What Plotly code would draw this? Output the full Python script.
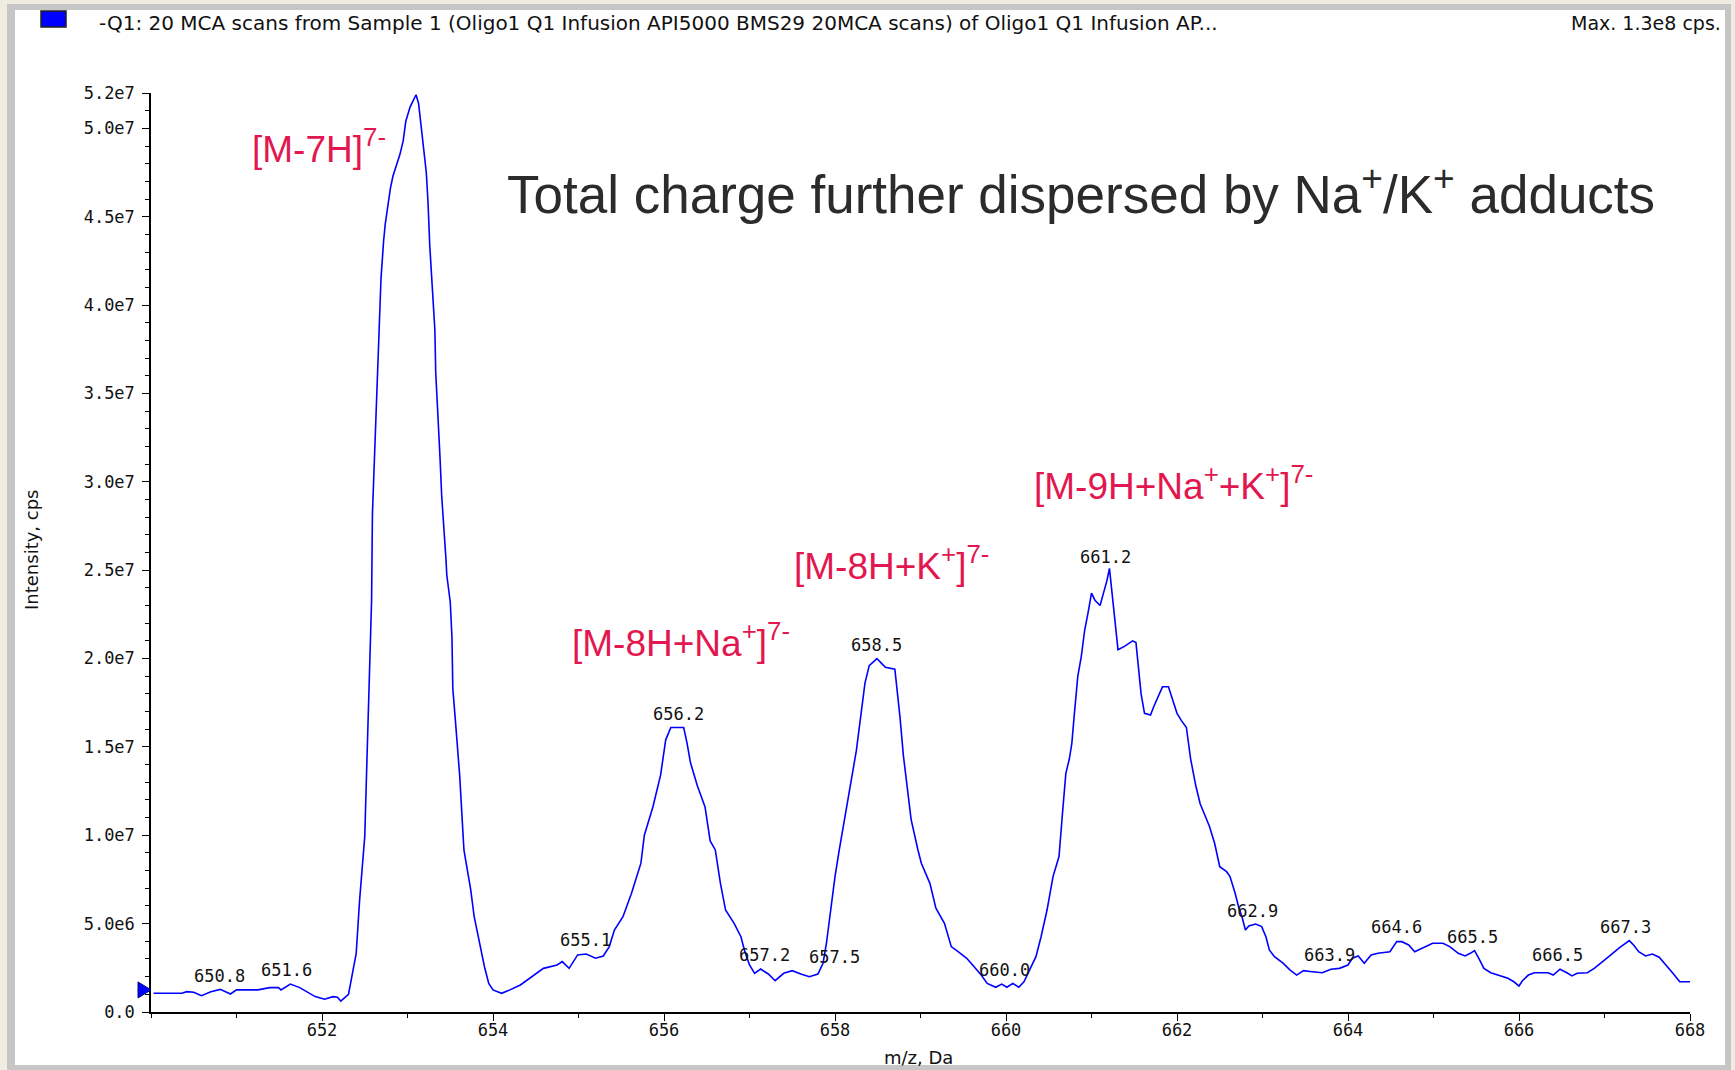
import plotly.graph_objects as go

# ---------------- data ----------------
mz = [650.03, 650.36, 650.42, 650.50, 650.59, 650.70, 650.81, 650.93, 651.00, 651.25,
      651.39, 651.49, 651.52, 651.63, 651.74, 651.92, 652.03, 652.13, 652.18, 652.22,
      652.31, 652.35, 652.40, 652.44, 652.47, 652.50, 652.52, 652.55, 652.58, 652.59,
      652.62, 652.64, 652.67, 652.69, 652.72, 652.74, 652.77, 652.80, 652.83, 652.87,
      652.91, 652.95, 652.98, 653.03, 653.07, 653.10, 653.13, 653.16, 653.19, 653.22,
      653.24, 653.26, 653.29, 653.32, 653.33, 653.35, 653.38, 653.40, 653.43, 653.45,
      653.46, 653.50, 653.52, 653.53, 653.56, 653.61, 653.66, 653.70, 653.74, 653.78,
      653.84, 653.90, 653.95, 654.00, 654.10, 654.18, 654.32, 654.45, 654.59, 654.75,
      654.81, 654.89, 654.99, 655.09, 655.20, 655.29, 655.36, 655.42, 655.52, 655.62,
      655.73, 655.77, 655.87, 655.96, 656.02, 656.08, 656.17, 656.23, 656.27, 656.31,
      656.39, 656.48, 656.54, 656.60, 656.66, 656.72, 656.82, 656.90, 656.94, 657.00,
      657.06, 657.13, 657.22, 657.30, 657.40, 657.50, 657.60, 657.70, 657.80, 657.86,
      657.90, 657.96, 658.00, 658.05, 658.15, 658.25, 658.30, 658.35, 658.40, 658.49,
      658.55, 658.59, 658.70, 658.73, 658.76, 658.80, 658.89, 658.97, 659.01, 659.11,
      659.18, 659.28, 659.36, 659.44, 659.54, 659.61, 659.71, 659.78, 659.88, 659.95,
      660.01, 660.08, 660.15, 660.21, 660.28, 660.35, 660.41, 660.48, 660.55, 660.62,
      660.66, 660.70, 660.74, 660.77, 660.80, 660.84, 660.88, 660.92, 660.96, 661.00,
      661.04, 661.10, 661.14, 661.18, 661.21, 661.25, 661.28, 661.31, 661.39, 661.48,
      661.52, 661.55, 661.58, 661.62, 661.69, 661.73, 661.79, 661.83, 661.90, 661.95,
      662.00, 662.05, 662.11, 662.16, 662.22, 662.27, 662.32, 662.38, 662.44, 662.50,
      662.58, 662.62, 662.68, 662.72, 662.76, 662.80, 662.84, 662.92, 662.99, 663.04,
      663.08, 663.14, 663.24, 663.32, 663.40, 663.48, 663.58, 663.70, 663.80, 663.90,
      664.00, 664.05, 664.12, 664.19, 664.27, 664.35, 664.49, 664.57, 664.63, 664.71,
      664.78, 664.87, 664.99, 665.11, 665.19, 665.29, 665.37, 665.43, 665.48, 665.53,
      665.59, 665.67, 665.78, 665.87, 665.94, 666.00, 666.04, 666.11, 666.18, 666.34,
      666.40, 666.48, 666.56, 666.62, 666.68, 666.80, 666.88, 666.96, 667.06, 667.18,
      667.29, 667.34, 667.40, 667.48, 667.56, 667.64, 667.72, 667.80, 667.88, 668.00]

# intensity in millions of cps
intensity_e6 = [1.06, 1.06, 1.15, 1.12, 0.92, 1.15, 1.28, 1.02, 1.25, 1.25,
                1.38, 1.38, 1.25, 1.58, 1.38, 0.87, 0.72, 0.87, 0.83, 0.62,
                1.00, 2.0, 3.32, 6.34, 8.04, 9.92, 13.3, 18.2, 23.3, 28.2,
                32.3, 35.3, 38.5, 41.5, 43.6, 44.6, 45.6, 46.6, 47.3, 47.9,
                48.5, 49.3, 50.4, 51.2, 51.6, 51.9, 51.4, 50.1, 48.8, 47.5,
                45.8, 43.4, 41.0, 38.6, 36.2, 33.9, 31.4, 29.2, 27.3, 25.6,
                24.7, 23.2, 21.2, 18.3, 16.5, 13.4, 9.17, 8.04, 6.90, 5.39,
                3.89, 2.56, 1.62, 1.25, 1.06, 1.21, 1.53, 2.00, 2.47, 2.66,
                2.85, 2.47, 3.23, 3.28, 3.04, 3.17, 3.70, 4.64, 5.39, 6.72,
                8.42, 10.0, 11.6, 13.4, 15.4, 16.1, 16.1, 16.1, 15.2, 14.1,
                12.8, 11.6, 9.68, 9.17, 7.28, 5.77, 5.02, 4.26, 3.51, 2.66,
                2.19, 2.43, 2.15, 1.77, 2.19, 2.34, 2.15, 2.00, 2.15, 2.76,
                3.89, 6.15, 7.66, 9.17, 12.0, 14.8, 16.7, 18.6, 19.6, 20.0,
                19.7, 19.5, 19.4, 18.2, 16.7, 14.5, 10.9, 9.17, 8.42, 7.28,
                5.87, 5.02, 3.70, 3.41, 3.04, 2.66, 2.09, 1.62, 1.40, 1.58,
                1.40, 1.62, 1.40, 1.71, 2.38, 3.13, 4.26, 5.77, 7.66, 8.8,
                11.2, 13.5, 14.3, 15.2, 16.9, 19.0, 20.1, 21.6, 22.6, 23.7,
                23.3, 23.0, 23.7, 24.4, 25.1, 23.3, 22.0, 20.5, 20.7, 21.0,
                20.9, 19.4, 18.0, 16.9, 16.8, 17.3, 18.0, 18.4, 18.4, 17.7,
                16.9, 16.5, 16.1, 14.3, 12.8, 11.8, 11.2, 10.5, 9.55, 8.22,
                7.94, 7.66, 6.72, 5.96, 5.39, 4.64, 4.87, 4.98, 4.83, 4.26,
                3.51, 3.13, 2.76, 2.38, 2.09, 2.34, 2.28, 2.22, 2.42, 2.47,
                2.66, 3.04, 3.17, 2.76, 3.23, 3.32, 3.41, 3.98, 3.98, 3.79,
                3.41, 3.60, 3.89, 3.89, 3.70, 3.32, 3.17, 3.32, 3.47, 3.04,
                2.47, 2.22, 2.04, 1.91, 1.71, 1.47, 1.77, 2.09, 2.22, 2.22,
                2.09, 2.42, 2.22, 2.04, 2.19, 2.22, 2.47, 2.76, 3.17, 3.66,
                4.04, 3.79, 3.41, 3.17, 3.28, 3.10, 2.66, 2.19, 1.71, 1.71]

y_tick_vals = [0, 5e6, 1e7, 1.5e7, 2e7, 2.5e7, 3e7, 3.5e7, 4e7, 4.5e7, 5e7, 5.2e7]
y_tick_text = ["0.0", "5.0e6", "1.0e7", "1.5e7", "2.0e7", "2.5e7", "3.0e7",
               "3.5e7", "4.0e7", "4.5e7", "5.0e7", "5.2e7"]
x_tick_vals = [652, 654, 656, 658, 660, 662, 664, 666, 668]
x_tick_text = ["652", "654", "656", "658", "660", "662", "664", "666", "668"]

peak_labels = ["650.8", "651.6", "653.1", "655.1", "656.2", "657.2", "657.5", "658.5",
               "660.0", "661.2", "662.9", "663.9", "664.6", "665.5", "666.5", "667.3"]

ion_labels = ["[M-7H]<sup>7-</sup>",
              "[M-8H+Na<sup>+</sup>]<sup>7-</sup>",
              "[M-8H+K<sup>+</sup>]<sup>7-</sup>",
              "[M-9H+Na<sup>+</sup>+K<sup>+</sup>]<sup>7-</sup>"]

header_text = ("-Q1: 20 MCA scans from Sample 1 (Oligo1 Q1 Infusion API5000 BMS29 "
               "20MCA scans) of Oligo1 Q1 Infusion AP...")
max_text = "Max. 1.3e8 cps."
headline = "Total charge further dispersed by Na<sup>+</sup>/K<sup>+</sup> adducts"

marker_level = 1.25e6  # level of the blue start marker on the y axis

intensity = [v * 1e6 for v in intensity_e6]

# ---------------- layout helpers (pixel -> paper) ----------------
W, H = 1735, 1070
ML, MR, MT, MB = 151, 45, 93, 58
PW, PH = W - ML - MR, H - MT - MB
Y_MAX = 5.2e7


def px(x):
    return (x - ML) / PW


def py(y):
    return (H - MB - y) / PH


# label positions (data coords), kept separate from the data
peak_label_pos = [(650.80, 2.04e6), (651.58, 2.35e6), (653.10, 5.27e7), (655.08, 4.05e6),
                  (656.17, 1.688e7), (657.17, 3.23e6), (657.99, 3.11e6), (658.48, 2.077e7),
                  (659.98, 2.35e6), (661.16, 2.577e7), (662.88, 5.73e6), (663.78, 3.23e6),
                  (664.57, 4.79e6), (665.46, 4.24e6), (666.45, 3.23e6), (667.25, 4.79e6)]
ion_label_pos = [(651.16, 4.90e7), (654.90, 2.10e7), (657.50, 2.54e7), (660.30, 2.99e7)]

RED = "#E3174F"
TICKFONT = dict(family="DejaVu Sans Mono", size=17, color="#111111")

fig = go.Figure()
fig.add_trace(go.Scatter(x=mz, y=intensity, mode="lines",
                         line=dict(color="#0000FF", width=1.6),
                         hoverinfo="x+y", showlegend=False))

annotations = []
for txt, (xv, yv) in zip(peak_labels, peak_label_pos):
    annotations.append(dict(x=xv, y=yv, xref="x", yref="y", text=txt, showarrow=False,
                            xanchor="center", yanchor="middle", font=TICKFONT))
for txt, (xv, yv) in zip(ion_labels, ion_label_pos):
    annotations.append(dict(x=xv, y=yv, xref="x", yref="y", text=txt, showarrow=False,
                            xanchor="left", yanchor="middle",
                            font=dict(family="Liberation Sans, Arial", size=37, color=RED)))
annotations.append(dict(x=px(505), y=py(190), xref="paper", yref="paper", text=headline,
                        showarrow=False, xanchor="left", yanchor="middle",
                        font=dict(family="Liberation Sans, Arial", size=53, color="#2B2B2B")))
annotations.append(dict(x=px(97), y=py(23), xref="paper", yref="paper", text=header_text,
                        showarrow=False, xanchor="left", yanchor="middle",
                        font=dict(family="DejaVu Sans", size=20, color="#111111")))
annotations.append(dict(x=px(1723), y=py(23), xref="paper", yref="paper", text=max_text,
                        showarrow=False, xanchor="right", yanchor="middle",
                        font=dict(family="DejaVu Sans", size=19, color="#111111")))
annotations.append(dict(x=px(31), y=py(550), xref="paper", yref="paper", text="Intensity, cps",
                        showarrow=False, textangle=-90, xanchor="center", yanchor="middle",
                        font=dict(family="DejaVu Sans", size=18, color="#111111")))
annotations.append(dict(x=px(918), y=py(1057), xref="paper", yref="paper", text="m/z, Da",
                        showarrow=False, xanchor="center", yanchor="middle",
                        font=dict(family="DejaVu Sans", size=18, color="#111111")))

BEIGE = "#EFEDE2"
GRAY = "#C6C6C6"


def rect(x0, y0, x1, y1, color, line=None):
    return dict(type="rect", xref="paper", yref="paper", x0=px(x0), x1=px(x1),
                y0=py(y1), y1=py(y0), fillcolor=color, layer="below",
                line=dict(width=0) if line is None else line)


shapes = [
    rect(0, 0, W, 4, BEIGE),
    rect(0, 0, 7, H, BEIGE),
    rect(1731, 0, W, H, BEIGE),
    rect(7, 4, 1731, 10, GRAY),
    rect(7, 4, 15, H, GRAY),
    rect(1725, 4, 1731, H, GRAY),
    rect(7, 1065, 1731, H, GRAY),
    rect(41, 11, 66, 27, "#0000FF", line=dict(color="#202020", width=1.5)),
    dict(type="path", xref="paper", yref="paper", xsizemode="pixel", ysizemode="pixel",
         xanchor=0, yanchor=marker_level / Y_MAX, path="M -13,-8 L 0,0 L -13,8 Z",
         fillcolor="#0000FF", line=dict(color="#000080", width=1)),
]

fig.update_layout(
    width=W, height=H, autosize=False,
    margin=dict(l=ML, r=MR, t=MT, b=MB, pad=0),
    paper_bgcolor="white", plot_bgcolor="white",
    showlegend=False,
    annotations=annotations,
    shapes=shapes,
    xaxis=dict(range=[650, 668], showgrid=False, zeroline=False,
               showline=True, linecolor="black", linewidth=1.5,
               ticks="outside", ticklen=7, tickwidth=1.3, tickcolor="black",
               tickmode="array", tickvals=x_tick_vals, ticktext=x_tick_text,
               tickfont=TICKFONT, ticklabelstandoff=-5,
               minor=dict(ticks="outside", ticklen=4, tickwidth=1.2, tickcolor="black",
                          tickmode="linear", tick0=650, dtick=1, showgrid=False)),
    yaxis=dict(range=[0, Y_MAX], showgrid=False, zeroline=False,
               showline=True, linecolor="black", linewidth=1.5,
               ticks="outside", ticklen=7, tickwidth=1.3, tickcolor="black",
               tickmode="array", tickvals=y_tick_vals, ticktext=y_tick_text,
               tickfont=TICKFONT, ticklabelstandoff=4,
               minor=dict(ticks="outside", ticklen=4, tickwidth=1.2, tickcolor="black",
                          tickmode="linear", tick0=0, dtick=1e6, showgrid=False)),
)

fig.write_html("out.html")
